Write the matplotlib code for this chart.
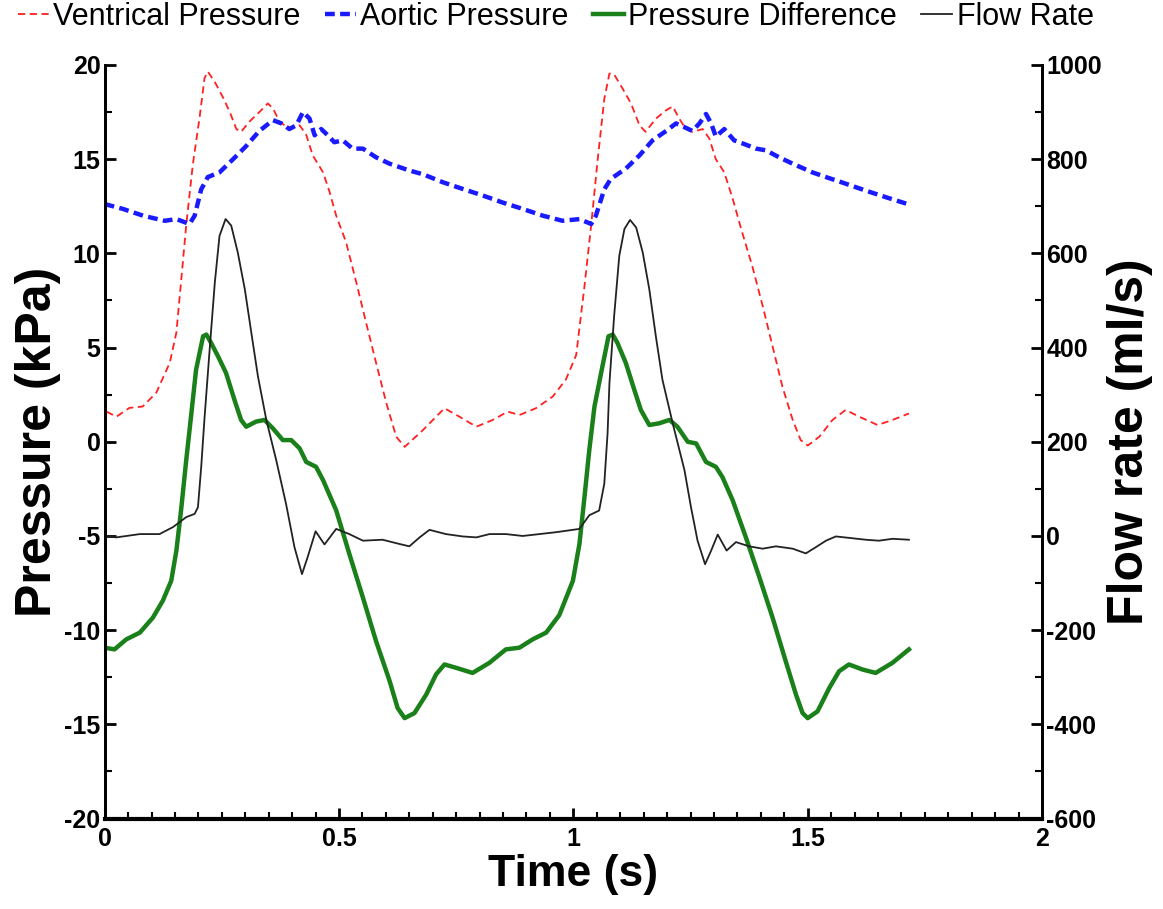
import numpy as np
import matplotlib
matplotlib.use("Agg")
import matplotlib.pyplot as plt
from matplotlib.ticker import MultipleLocator

plt.rcParams['font.family'] = ['Liberation Sans', 'DejaVu Sans']
plt.rcParams['axes.unicode_minus'] = False

# ventricular pressure (kPa)
t_vent = [0.004, 0.025, 0.053, 0.081, 0.110, 0.139, 0.153, 0.163, 0.174, 0.188, 0.203, 0.213, 0.220,
          0.235, 0.252, 0.267, 0.281, 0.291, 0.309, 0.330, 0.348, 0.359, 0.373, 0.394, 0.416, 0.430,
          0.444, 0.466, 0.480, 0.494, 0.515, 0.537, 0.558, 0.579, 0.601, 0.622, 0.640, 0.679, 0.725,
          0.757, 0.793, 0.828, 0.860, 0.885, 0.920, 0.956, 0.984, 1.006, 1.023, 1.038, 1.052, 1.066,
          1.077, 1.087, 1.105, 1.123, 1.141, 1.154, 1.176, 1.198, 1.212, 1.226, 1.240, 1.254, 1.276,
          1.290, 1.304, 1.322, 1.340, 1.358, 1.382, 1.404, 1.425, 1.446, 1.468, 1.485, 1.500, 1.525,
          1.553, 1.581, 1.610, 1.649, 1.681, 1.716]
p_vent = [1.6, 1.33, 1.8, 1.87, 2.6, 4.2, 5.8, 8.5, 11.5, 14.7, 17.3, 19.3, 19.65,
          19.1, 18.3, 17.5, 16.6, 16.45, 17.0, 17.5, 17.96, 17.7, 17.0, 16.6, 16.8, 16.3,
          15.2, 14.3, 13.25, 12.0, 10.6, 8.45, 6.3, 4.2, 2.05, 0.27, -0.27, 0.62, 1.78,
          1.33, 0.8, 1.16, 1.6, 1.42, 1.78, 2.4, 3.3, 4.6, 8.1, 11.5, 15.0, 18.2,
          19.55, 19.5, 18.75, 17.96, 16.8, 16.45, 17.15, 17.6, 17.8, 17.15, 16.6, 16.45, 16.6,
          16.1, 15.0, 14.3, 12.9, 11.3, 9.3, 7.2, 5.07, 2.93, 1.16, 0.09, -0.2, 0.27,
          1.16, 1.69, 1.33, 0.89, 1.16, 1.5]

# aortic pressure (kPa)
t_aort = [0.0, 0.039, 0.082, 0.128, 0.153, 0.181, 0.192, 0.206, 0.220, 0.245, 0.274, 0.302, 0.330,
          0.359, 0.377, 0.394, 0.409, 0.423, 0.437, 0.448, 0.462, 0.476, 0.490, 0.508, 0.529, 0.551,
          0.579, 0.608, 0.650, 0.679, 0.721, 0.764, 0.807, 0.849, 0.892, 0.935, 0.977, 1.013, 1.038,
          1.048, 1.066, 1.080, 1.112, 1.141, 1.169, 1.198, 1.219, 1.237, 1.254, 1.269, 1.283, 1.294,
          1.304, 1.322, 1.343, 1.365, 1.390, 1.411, 1.439, 1.468, 1.510, 1.539, 1.581, 1.624, 1.667,
          1.713]
p_aort = [12.62, 12.36, 12.0, 11.73, 11.82, 11.56, 12.0, 13.4, 14.05, 14.3, 15.0, 15.7, 16.5,
          17.07, 16.9, 16.6, 16.8, 17.5, 17.16, 16.27, 16.6, 16.27, 15.9, 16.0, 15.56, 15.56,
          15.1, 14.76, 14.4, 14.2, 13.78, 13.42, 13.07, 12.7, 12.36, 12.0, 11.73, 11.82, 11.56,
          12.0, 13.4, 13.96, 14.5, 15.2, 16.0, 16.5, 16.9, 16.7, 16.5, 16.9, 17.4, 16.9,
          16.2, 16.6, 16.0, 15.8, 15.56, 15.47, 15.1, 14.76, 14.3, 14.05, 13.7, 13.33, 12.98,
          12.62]

# pressure difference (kPa)
t_diff = [0.0, 0.021, 0.046, 0.075, 0.103, 0.124, 0.142, 0.153, 0.163, 0.174, 0.185, 0.195, 0.210,
          0.217, 0.227, 0.242, 0.259, 0.277, 0.291, 0.302, 0.323, 0.341, 0.359, 0.380, 0.398, 0.416,
          0.430, 0.451, 0.466, 0.494, 0.522, 0.551, 0.579, 0.608, 0.625, 0.640, 0.661, 0.686, 0.707,
          0.725, 0.750, 0.785, 0.821, 0.856, 0.885, 0.913, 0.942, 0.970, 0.999, 1.013, 1.023, 1.034,
          1.045, 1.062, 1.075, 1.084, 1.094, 1.112, 1.130, 1.144, 1.162, 1.183, 1.205, 1.222, 1.244,
          1.262, 1.283, 1.304, 1.318, 1.340, 1.368, 1.397, 1.425, 1.453, 1.475, 1.489, 1.500, 1.521,
          1.546, 1.567, 1.588, 1.617, 1.645, 1.681, 1.716]
p_diff = [-10.93, -11.02, -10.49, -10.13, -9.33, -8.44, -7.38, -5.78, -3.64, -0.98, 1.51, 3.82, 5.6,
          5.69, 5.25, 4.53, 3.65, 2.22, 1.16, 0.8, 1.07, 1.16, 0.71, 0.09, 0.09, -0.35,
          -1.07, -1.33, -2.04, -3.64, -5.95, -8.27, -10.58, -12.7, -14.13, -14.67, -14.4, -13.42, -12.35,
          -11.82, -12.0, -12.27, -11.73, -11.02, -10.93, -10.49, -10.13, -9.2, -7.38, -5.42, -3.11, -0.44,
          1.87, 4.0, 5.6, 5.69, 5.25, 4.18, 2.76, 1.69, 0.89, 0.98, 1.16, 0.8, 0.0,
          -0.09, -1.07, -1.33, -1.87, -3.11, -5.07, -7.2, -9.33, -11.64, -13.42, -14.4, -14.67, -14.31,
          -13.07, -12.18, -11.82, -12.09, -12.27, -11.73, -11.02]

# flow rate (ml/s)
t_flow = [0.0, 0.025, 0.075, 0.117, 0.146, 0.174, 0.192, 0.199, 0.206, 0.213, 0.224, 0.235, 0.245,
          0.258, 0.270, 0.284, 0.299, 0.313, 0.327, 0.345, 0.366, 0.387, 0.405, 0.421, 0.433, 0.450,
          0.469, 0.494, 0.522, 0.551, 0.593, 0.629, 0.650, 0.672, 0.693, 0.728, 0.764, 0.793, 0.821,
          0.856, 0.892, 0.963, 1.013, 1.034, 1.055, 1.066, 1.073, 1.077, 1.087, 1.098, 1.109, 1.121,
          1.134, 1.148, 1.162, 1.176, 1.190, 1.212, 1.237, 1.251, 1.265, 1.281, 1.294, 1.308, 1.327,
          1.347, 1.375, 1.404, 1.432, 1.468, 1.496, 1.517, 1.539, 1.560, 1.588, 1.624, 1.652, 1.681,
          1.716]
q_flow = [0, -3, 4, 4, 19, 40, 47, 61, 147, 250, 396, 538, 637,
          673, 659, 602, 524, 431, 339, 246, 161, 68, -24, -81, -45, 10,
          -18, 15, 4, -10, -8, -17, -22, -3, 13, 4, -1, -3, 4,
          4, 0, 8, 15, 44, 54, 111, 218, 325, 467, 595, 652, 671,
          655, 602, 524, 424, 332, 239, 140, 61, -10, -60, -31, 3, -31,
          -13, -22, -27, -22, -27, -37, -24, -10, -1, -4, -8, -10, -6,
          -8]

fig = plt.figure(figsize=(11.63, 9.09), dpi=100)
ax = fig.add_axes([0.090, 0.0995, 0.806, 0.829])
ax2 = ax.twinx()

l1, = ax.plot(t_vent, p_vent, color='#ff2020', lw=1.3, dashes=(4, 2.5))
l2, = ax.plot(t_aort, p_aort, color='#1a1aff', lw=3.2, dashes=(2.2, 1.2))
l3, = ax.plot(t_diff, p_diff, color='#1a801a', lw=3.2)
l4, = ax2.plot(t_flow, q_flow, color='#222222', lw=1.3)

ax.set_xlim(0, 2)
ax.set_ylim(-20, 20)
ax2.set_ylim(-600, 1000)

ax.xaxis.set_major_locator(MultipleLocator(0.5))
ax.xaxis.set_minor_locator(MultipleLocator(0.05))
ax.yaxis.set_major_locator(MultipleLocator(5))
ax.yaxis.set_minor_locator(MultipleLocator(2.5))
ax2.yaxis.set_major_locator(MultipleLocator(200))
ax2.yaxis.set_minor_locator(MultipleLocator(100))
ax.set_xticks([0, 0.5, 1, 1.5, 2], ['0', '0.5', '1', '1.5', '2'])

for a in (ax, ax2):
    a.spines['top'].set_visible(False)
    for s in a.spines.values():
        s.set_linewidth(2)
    a.tick_params(which='major', direction='in', length=8, width=2, labelsize=18)
    a.tick_params(which='minor', direction='in', length=5, width=1.5)
    for lab in a.get_xticklabels() + a.get_yticklabels():
        lab.set_fontweight('bold')
ax.spines['bottom'].set_linewidth(3)
ax.tick_params(axis='x', top=False, pad=6)
ax.tick_params(axis='y', pad=3)
ax2.tick_params(axis='y', pad=3)

ax.set_xlabel('Time (s)', fontsize=32, fontweight='bold', labelpad=2)
ax.set_ylabel('Pressure (kPa)', fontsize=36, fontweight='bold', labelpad=2)
ax2.set_ylabel('Flow rate (ml/s)', fontsize=36, fontweight='bold', labelpad=4)

fig.legend([l1, l2, l3, l4],
           ['Ventrical Pressure', 'Aortic Pressure', 'Pressure Difference', 'Flow Rate'],
           loc='upper center', bbox_to_anchor=(0.478, 1.028), ncol=4, frameon=False,
           fontsize=22, handlelength=1.0, handletextpad=0.15, columnspacing=0.8)

fig.savefig('out.png', dpi=100)
